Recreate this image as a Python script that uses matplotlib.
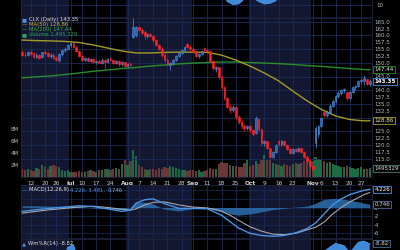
import numpy as np
import matplotlib.pyplot as plt

# x axis = trading-day index (Jun 7 .. Nov 30)
tick_idx = [3, 8, 12, 17, 21, 26, 31, 37, 41, 46, 51, 56, 60, 65, 70, 75, 80, 85, 90, 95, 102, 105, 110, 115, 119]
tick_lbl = ['12', '20', '26', 'Jul', '10', '17', '24', 'Aug', '7', '14', '21', '28', 'Sep',
            '11', '18', '25', 'Oct', '9', '16', '23', 'Nov', '6', '13', '20', '27']
month_names = ['Jul', 'Aug', 'Sep', 'Oct', 'Nov']
navy_months = [(-0.5, 16.5), (36.5, 59.5), (79.5, 101.5)]  # Jun, Aug, Oct

opens = [154.0, 153.0, 152.8, 154.0, 153.2, 152.2, 153.0, 152.0, 153.8, 153.4,
         152.4, 153.0, 151.8, 151.2, 153.2, 154.6, 155.2, 156.6, 157.2, 155.8,
         154.4, 152.6, 151.2, 151.8, 150.8, 151.4, 150.2, 150.8, 150.0, 151.2,
         150.4, 151.4, 151.0, 149.8, 150.8, 149.4, 150.2, 149.0, 149.6, 159.5,
         160.0, 163.0, 162.0, 161.2, 159.6, 160.4, 159.8, 158.2, 156.4, 155.0,
         153.0, 151.0, 149.2, 149.8, 151.0, 152.6, 153.6, 154.8, 156.8, 155.8,
         155.2, 154.0, 152.4, 153.2, 155.4, 154.6, 154.2, 150.8, 147.6, 148.4,
         144.8, 141.2, 137.0, 134.0, 132.6, 134.0, 130.2, 128.4, 126.8, 126.2,
         127.0, 125.4, 124.2, 129.6, 125.8, 120.6, 121.4, 118.8, 115.8, 117.4,
         121.6, 120.2, 121.4, 120.0, 118.6, 117.2, 118.6, 117.8, 118.8, 117.6,
         115.8, 114.0, 112.4, 120.6, 124.0, 127.0, 132.0, 130.8, 132.2, 134.4,
         136.0, 137.8, 139.0, 140.0, 139.2, 137.2, 139.4, 141.0, 141.6, 143.2,
         143.4, 144.0, 142.4]
highs = [154.5, 153.8, 154.2, 154.5, 153.8, 153.4, 153.2, 154.0, 154.6, 153.9,
         153.5, 153.4, 152.4, 153.6, 155.0, 155.6, 157.0, 157.6, 157.4, 156.2,
         154.8, 152.9, 152.2, 152.0, 151.8, 151.6, 151.2, 151.4, 151.6, 151.5,
         151.8, 152.2, 151.4, 151.2, 151.0, 150.6, 150.4, 150.0, 150.2, 166.2,
         163.4, 163.4, 162.6, 162.0, 160.8, 161.0, 160.2, 158.6, 156.8, 155.6,
         153.4, 151.6, 150.2, 151.4, 153.0, 154.0, 155.2, 156.2, 157.2, 156.6,
         155.6, 154.4, 153.6, 154.8, 155.8, 155.0, 154.4, 151.2, 148.8, 148.6,
         145.2, 141.6, 137.4, 134.8, 134.6, 134.2, 131.0, 129.2, 127.6, 127.4,
         127.2, 125.8, 130.6, 130.0, 126.0, 121.8, 121.6, 119.0, 117.8, 120.4,
         121.8, 121.8, 121.8, 120.4, 118.8, 119.0, 118.8, 119.2, 119.0, 117.8,
         116.2, 114.4, 113.0, 127.0, 127.4, 130.4, 132.4, 132.6, 134.8, 136.6,
         138.2, 139.6, 140.6, 140.8, 139.4, 139.8, 141.4, 142.0, 143.8, 144.4,
         145.4, 144.2, 144.0]
lows = [152.6, 152.2, 152.5, 152.8, 151.8, 151.9, 151.5, 151.8, 153.0, 152.0,
        151.6, 151.5, 150.6, 150.4, 152.6, 153.8, 155.0, 155.8, 155.4, 154.0,
        152.0, 150.8, 150.6, 150.4, 150.2, 149.8, 149.6, 149.8, 149.6, 147.8,
        150.0, 150.8, 149.4, 149.4, 149.0, 148.8, 148.6, 148.4, 148.8, 159.0,
        159.4, 161.6, 160.6, 158.8, 159.2, 159.4, 157.6, 156.0, 154.6, 152.2,
        150.4, 148.8, 147.2, 149.2, 150.6, 152.2, 153.2, 154.4, 155.4, 154.8,
        153.6, 152.0, 151.6, 152.8, 154.0, 153.8, 150.4, 147.4, 146.6, 144.2,
        140.6, 136.4, 133.4, 131.8, 132.0, 129.6, 127.8, 126.0, 125.2, 125.6,
        124.8, 123.4, 124.0, 125.0, 120.0, 119.8, 118.4, 115.2, 115.4, 117.0,
        119.6, 119.8, 119.6, 118.2, 116.8, 116.8, 117.4, 117.4, 117.2, 115.4,
        113.6, 111.8, 110.6, 118.8, 122.8, 126.4, 130.2, 130.4, 131.8, 133.8,
        135.4, 137.2, 138.4, 139.0, 136.6, 136.8, 139.0, 140.2, 141.2, 142.4,
        141.8, 141.8, 141.6]
closes = [153.0, 152.8, 154.0, 153.2, 152.2, 153.0, 151.9, 153.8, 153.4, 152.4,
          153.0, 151.8, 151.2, 153.2, 154.6, 155.2, 156.6, 157.2, 155.8, 154.4,
          152.6, 151.2, 151.8, 150.8, 151.4, 150.2, 150.8, 150.0, 151.2, 150.4,
          151.4, 151.0, 149.8, 150.8, 149.4, 150.2, 149.0, 149.6, 149.2, 163.0,
          163.2, 162.0, 161.0, 159.6, 160.4, 159.8, 158.2, 156.4, 155.0, 153.0,
          151.0, 149.4, 149.8, 151.0, 152.6, 153.6, 154.8, 155.8, 155.8, 155.2,
          154.0, 152.4, 153.2, 154.4, 154.6, 154.2, 150.8, 148.0, 148.4, 144.8,
          141.2, 137.0, 134.0, 132.6, 134.0, 130.2, 128.4, 126.8, 126.2, 127.0,
          125.4, 124.0, 129.8, 125.8, 120.6, 121.4, 118.8, 115.8, 117.4, 120.0,
          120.2, 121.4, 120.0, 118.6, 117.2, 118.6, 117.8, 118.8, 117.6, 115.8,
          114.0, 112.4, 111.2, 126.2, 127.0, 130.0, 130.8, 132.2, 134.4, 136.0,
          137.8, 139.0, 140.0, 140.4, 137.2, 139.4, 141.0, 141.6, 143.2, 143.8,
          144.6, 142.4, 143.35]
volume_m = [1.3, 1.1, 1.4, 1.2, 1.0, 1.5, 1.3, 2.0, 1.6, 1.4,
            1.8, 2.0, 1.9, 1.6, 1.2, 1.0, 1.1, 0.9, 0.8, 0.9,
            1.0, 0.8, 0.9, 1.0, 1.1, 1.0, 0.9, 1.2, 1.1, 1.4,
            1.3, 1.2, 1.3, 1.5, 1.4, 2.2, 2.8, 2.0, 2.6, 4.5,
            3.5, 2.0, 1.6, 1.4, 1.2, 1.3, 1.4, 1.2, 1.5, 1.3,
            1.6, 1.5, 1.8, 1.7, 1.5, 1.4, 1.2, 1.1, 1.0, 1.2,
            1.1, 1.0, 1.1, 0.9, 1.0, 1.1, 1.5, 1.4, 1.3, 2.2,
            2.5, 2.4, 2.3, 2.0, 1.8, 1.9, 1.7, 1.6, 2.3, 2.8,
            1.9, 2.0, 2.6, 2.1, 2.9, 3.6, 2.8, 2.9, 2.3, 2.2,
            2.0, 1.8, 2.1, 2.0, 1.9, 2.2, 2.3, 2.1, 2.4, 2.6,
            2.8, 3.0, 2.6, 3.4, 3.0, 2.8, 2.6, 2.4, 2.5, 2.2,
            2.0, 1.8, 1.7, 1.6, 1.8, 1.6, 1.5, 1.4, 1.5, 1.6,
            1.4, 1.3, 1.495329]

ma_idx = [0, 5, 10, 15, 20, 25, 30, 35, 40, 45, 50, 55, 60, 65, 70, 75, 80, 85, 90, 95,
          100, 105, 110, 115, 120, 122]
ma50 = [158.3, 158.1, 158.0, 157.8, 157.4, 156.5, 155.4, 154.3, 153.6, 153.6, 153.8, 153.9,
        153.9, 153.8, 152.8, 151.0, 148.8, 146.3, 143.4, 139.7, 136.1, 133.0, 130.6, 129.3,
        128.8, 128.86]
ma200 = [144.5, 144.9, 145.2, 145.7, 146.3, 146.9, 147.4, 147.9, 148.3, 148.8, 149.2, 149.6,
         149.9, 150.1, 150.3, 150.3, 150.1, 149.9, 149.7, 149.4, 149.0, 148.7, 148.3, 147.9,
         147.55, 147.44]

macd_idx = [0, 5, 10, 15, 20, 25, 30, 35, 38, 40, 43, 46, 50, 55, 60, 65, 68, 70, 73, 76,
            80, 84, 88, 92, 96, 100, 103, 106, 109, 112, 115, 118, 120, 122]
macd_line = [-0.9, -0.5, -0.2, 0.1, 0.4, 0.2, -0.3, -0.9, -0.6, 1.0, 1.8, 2.0, 0.9, -0.2,
             -0.2, -0.3, -1.2, -1.8, -3.3, -4.8, -6.0, -6.5, -6.7, -6.5, -5.9, -4.9, -3.6,
             -1.5, 0.6, 2.0, 3.0, 3.6, 4.0, 4.226]
macd_signal = [-1.3, -0.9, -0.5, -0.2, 0.1, 0.3, 0.0, -0.4, -0.6, -0.3, 0.6, 1.2, 1.3, 0.6,
               0.1, -0.1, -0.5, -0.9, -1.8, -3.0, -4.5, -5.5, -6.2, -6.3, -6.0, -5.2, -4.6,
               -3.4, -1.5, 0.0, 1.3, 2.3, 3.0, 3.481]
macd_hist = [0.4, 0.4, 0.3, 0.3, 0.3, -0.1, -0.3, -0.5, 0.0, 1.3, 1.2, 0.8, -0.4, -0.8,
             -0.3, -0.2, -0.7, -0.9, -1.5, -1.8, -1.5, -1.0, -0.5, -0.2, 0.1, 0.3, 1.0,
             1.9, 2.1, 2.0, 1.7, 1.3, 1.0, 0.746]

wr_idx = [0, 5, 10, 13, 16, 18, 20, 25, 30, 35, 39, 41, 45, 50, 55, 58, 62, 66, 70, 75, 80,
          82, 84, 88, 92, 96, 100, 103, 106, 110, 113, 115, 118, 120, 122]
wr_vals = [-60, -55, -50, -70, -15, -10, -45, -70, -60, -80, -30, -35, -40, -85, -30, -25,
           -50, -75, -95, -90, -85, -40, -90, -80, -55, -70, -95, -35, -22, -8, -12, -25,
           -6, -4, -8.82]

rsi_idx = [0, 10, 20, 30, 40, 50, 60, 66, 70, 72, 74, 76, 77, 79, 81, 83, 85, 87, 89, 91,
           95, 100, 105, 110, 115, 122]
rsi_vals = [45, 50, 48, 42, 75, 35, 48, 40, 22, 13, 10.5, 11, 13, 18, 16, 13, 11, 11.5,
            13.5, 20, 30, 22, 60, 70, 68, 66]

# 147.5, 142.5, 130.0 and 127.5 sit under the value boxes, so they are not labelled
price_ticks = [115.0, 117.5, 120.0, 122.5, 125.0, 132.5, 135.0, 137.5, 140.0,
               145.0, 150.0, 152.5, 155.0, 157.5, 160.0, 162.5, 165.0]
price_grid = [115, 120, 125, 130, 135, 140, 145, 150, 155, 160, 165]
vol_ticks = [2, 4, 6, 8]
macd_ticks = [-6, -4, -2, 0]

# colours
NAVY = '#141731'
GRID = '#1b2c58'
TXT = '#bdbdbd'
UP_EDGE = '#4a90e2'
UP_FACE = '#2d62ad'
DOWN = '#ff2222'
FS = 4.0

W, H = 400, 250
fig = plt.figure(figsize=(4, 2.5), dpi=100, facecolor='black')
renderer = fig.canvas.get_renderer()


def rect(top, bottom):
    return [21 / W, 1 - bottom / H, 351 / W, (bottom - top) / H]


def base(a):
    a.set_facecolor('black')
    a.set_xlim(-0.4, 122.8)
    for lo, hi in navy_months:
        a.axvspan(lo, hi, color=NAVY, lw=0, zorder=0)
    for t in tick_idx:
        a.axvline(t, color=GRID, lw=0.6, zorder=0.5)
    a.set_xticks([])
    for s in a.spines.values():
        s.set_color('#1e2240')
        s.set_linewidth(0.6)
    a.tick_params(axis='y', length=0, labelsize=FS, colors=TXT, pad=1.5)
    a.yaxis.tick_right()


def box(a, y, s, ec, tc, bold=False, fc='#080808'):
    a.text(1.007, y, s, transform=a.get_yaxis_transform(), fontsize=FS, color=tc,
           va='center', ha='left', fontweight='bold' if bold else 'normal', zorder=10,
           bbox=dict(boxstyle='square,pad=0.18', fc=fc, ec=ec, lw=0.6))


def chain(x, y, parts, size=3.8):
    # coloured pieces of one legend line, laid out left to right
    for s, c in parts:
        t = fig.text(x / W, 1 - y / H, s, color=c, fontsize=size, va='center', ha='left', zorder=20)
        x += t.get_window_extent(renderer).width


# --- top (partial RSI) panel
ax_rsi = fig.add_axes(rect(-40, 17))
base(ax_rsi)
ax_rsi.set_ylim(0, 47.5)
ax_rsi.set_yticks([])
ax_rsi.axhline(10, color=GRID, lw=0.6, zorder=0.5)
ax_rsi.text(1.012, 10, '10', transform=ax_rsi.get_yaxis_transform(), fontsize=FS, color=TXT,
            va='center', ha='left')
r = np.array(rsi_vals)
ax_rsi.fill_between(rsi_idx, r, 30, where=r < 30, interpolate=True, color='#3f8ad6', lw=0, zorder=2)
ax_rsi.plot(rsi_idx, r, color='#4a90e2', lw=0.8, zorder=3)

# --- price panel (volume underneath)
ax_vol = fig.add_axes(rect(17.5, 177))
base(ax_vol)
ax_vol.yaxis.tick_left()
ax_vol.set_ylim(0, (177 - 17.5) / 6.0)
ax_vol.set_yticks(vol_ticks)
ax_vol.set_yticklabels([f'{v}M' for v in vol_ticks])
ax_vol.tick_params(axis='y', pad=1.5)

o, h, l, c = map(np.array, (opens, highs, lows, closes))
x = np.arange(len(c))
up = c >= o
ax_vol.bar(x, volume_m, width=0.8, color=np.where(up, '#1d6b45', '#6a3838'), lw=0, zorder=2)

ax = fig.add_axes(rect(17.5, 177))
ax.patch.set_visible(False)
ax.set_xlim(-0.4, 122.8)
ax.set_xticks([])
for s in ax.spines.values():
    s.set_visible(False)
ax.yaxis.tick_right()
ax.tick_params(axis='y', length=0, labelsize=FS, colors=TXT, pad=1.5)
ax.set_ylim(165 - (177 - 21.7) / 2.74, 165 + (21.7 - 17.5) / 2.74)
ax.set_yticks(price_ticks)
ax.set_yticklabels([f'{v:.1f}' for v in price_ticks])
for g in price_grid:
    ax.axhline(g, color=GRID, lw=0.6, zorder=0.5)

ax.plot(ma_idx, ma200, color='#2a8c2a', lw=1.0, zorder=2)
ax.plot(ma_idx, ma50, color='#a39a2a', lw=1.0, zorder=2)
ax.vlines(x, l, h, colors=np.where(up, UP_EDGE, DOWN), lw=0.5, zorder=3)
ax.bar(x, np.abs(c - o), bottom=np.minimum(o, c), width=0.62,
       color=np.where(up, UP_FACE, DOWN), edgecolor=np.where(up, UP_EDGE, DOWN),
       lw=0.4, zorder=4)

box(ax, 147.44, '147.44', '#2a8c2a', '#cfe8cf')
box(ax, 143.35, '143.35', UP_EDGE, 'white', bold=True)
box(ax, 128.86, '128.86', '#a39a2a', '#e8e0a0')
box(ax_vol, 1.495329, '1495329', '#4f7a60', '#d0d0d0')

# x labels in the strip under the price panel
for t, s in zip(tick_idx, tick_lbl):
    ax.text(t, -0.025, s, transform=ax.get_xaxis_transform(), fontsize=4.2, color='#d0d0d0',
            ha='center', va='top', fontweight='bold' if s in month_names else 'normal')

# --- MACD panel
ax_m = fig.add_axes(rect(185, 238))
base(ax_m)
ax_m.set_ylim(-(238 - 207.5) / 4.3, (207.5 - 185) / 4.3)
ax_m.set_yticks(macd_ticks)
ax_m.set_yticklabels([str(v) for v in macd_ticks])
for g in [-6, -4, -2, 0, 2, 4]:
    ax_m.axhline(g, color=GRID, lw=0.5, zorder=0.5)
ax_m.fill_between(macd_idx, macd_hist, 0, color='#2a6aa8', lw=0, alpha=0.9, zorder=2)
ax_m.plot(macd_idx, macd_signal, color='#a8a8a8', lw=0.8, zorder=3)
ax_m.plot(macd_idx, macd_line, color='#4a94e6', lw=1.0, zorder=4)
box(ax_m, 4.226, '4.226', UP_EDGE, 'white')
box(ax_m, 0.746, '0.746', '#4a6a90', '#d0d0d0')

# --- Williams %R panel (only its top shows)
ax_w = fig.add_axes(rect(239, 295))
base(ax_w)
ax_w.set_ylim(-100, 0)
ax_w.set_yticks([])
w = np.array(wr_vals)
ax_w.fill_between(wr_idx, w, -20, where=w > -20, interpolate=True, color='#3f8ad6', lw=0, zorder=2)
ax_w.plot(wr_idx, w, color='#4a90e2', lw=0.8, zorder=3)
box(ax_w, -8.82, '-8.82', '#4a6a90', '#d0d0d0')

# --- legends
chain(22, 19.5, [('\u25a0 ', '#4a90e2'), ('CLX (Daily) 143.35', '#e0e0e0')])
chain(22, 24.5, [('\u2014 ', '#c9b83a'), ('MA(50) 128.86', '#c9b83a')])
chain(22, 29.5, [('\u2014 ', '#3fae3f'), ('MA(200) 147.44', '#3fae3f')])
chain(22, 34.5, [('\u25a0 ', '#2fa060'), ('Volume 1,495,329', '#2fa060')])
chain(22, 190, [('\u2014 ', '#4a90e2'), ('MACD(12,26,9) ', '#e0e0e0'),
                ('4.226, 3.481, ', '#4a90e2'), ('0.746', '#7ab4f0')])
chain(22, 243.5, [('\u25b2 ', '#4a90e2'), ('Wm%R(14) -8.82', '#e0e0e0')])

fig.savefig('out.png', dpi=100, facecolor='black')
